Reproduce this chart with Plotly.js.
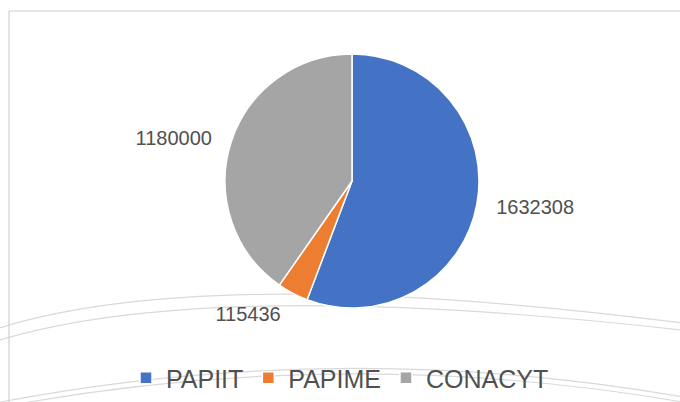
<!DOCTYPE html>
<html>
<head>
<meta charset="utf-8">
<script src="https://cdn.plot.ly/plotly-3.0.1.min.js"></script>
<style>html,body{margin:0;padding:0;background:#fff;}#chart{width:680px;height:402px;}</style>
</head>
<body>
<div id="chart"></div>
<script>
const labels = ["PAPIIT", "PAPIME", "CONACYT"];
const values = [1632308, 115436, 1180000];
const colors = ["#4472C4", "#ED7D31", "#A5A5A5"];

const W = 680, H = 402;
const px = x => x / W;
const py = y => 1 - y / H;
function arc(x0, y0, cx, cy, x1, y1) {
  return `M ${px(x0)},${py(y0)} Q ${px(cx)},${py(cy)} ${px(x1)},${py(y1)}`;
}
const lineStyle = {color: "#d9d9d9", width: 1.2};
const shapes = [
  {type: "path", xref: "paper", yref: "paper", path: arc(-10, 331, 200, 261, 690, 324), line: lineStyle, layer: "below"},
  {type: "path", xref: "paper", yref: "paper", path: arc(-10, 343, 200, 275, 690, 331), line: lineStyle, layer: "below"},
  {type: "path", xref: "paper", yref: "paper", path: arc(-20, 406, 340, 334, 700, 400), line: lineStyle, layer: "below"},
  {type: "path", xref: "paper", yref: "paper", path: arc(-20, 411, 340, 340, 700, 405), line: lineStyle, layer: "below"},
  {type: "line", xref: "paper", yref: "paper", x0: px(9), y0: py(11), x1: 1, y1: py(11), line: {color: "#d0d0d0", width: 1.2}},
  {type: "line", xref: "paper", yref: "paper", x0: px(9), y0: py(11), x1: px(9), y1: 0, line: {color: "#d0d0d0", width: 1.2}}
];

const font = "Liberation Sans, Arial, sans-serif";

const pieTrace = {
  type: "pie",
  labels: labels,
  values: values,
  textinfo: "none",
  sort: false,
  direction: "clockwise",
  rotation: 0,
  marker: {colors: colors, line: {color: "#ffffff", width: 1.5}},
  hoverinfo: "label+value",
  domain: {x: [px(225), px(479)], y: [py(308), py(54)]},
  automargin: false
};

// transparent, slightly larger pie carrying the outside data labels
const labelTrace = {
  type: "pie",
  labels: labels,
  values: values,
  text: values.map(v => String(v)),
  textinfo: "text",
  textposition: "outside",
  sort: false,
  direction: "clockwise",
  rotation: 0,
  showlegend: false,
  marker: {colors: labels.map(() => "rgba(0,0,0,0)"), line: {width: 0}},
  outsidetextfont: {family: font, size: 20, color: "#505050"},
  hoverinfo: "skip",
  domain: {x: [px(211), px(493)], y: [py(322), py(40)]},
  automargin: false
};

const layout = {
  width: W, height: H,
  margin: {l: 0, r: 0, t: 0, b: 0},
  paper_bgcolor: "#ffffff",
  plot_bgcolor: "#ffffff",
  showlegend: true,
  legend: {
    orientation: "h", x: 0.5, xanchor: "center", y: py(378), yanchor: "middle",
    font: {family: font, size: 25, color: "#505050"},
    bgcolor: "rgba(0,0,0,0)", traceorder: "normal"
  },
  shapes: shapes
};

Plotly.newPlot("chart", [pieTrace, labelTrace], layout, {displayModeBar: false, staticPlot: true});
</script>
</body>
</html>
